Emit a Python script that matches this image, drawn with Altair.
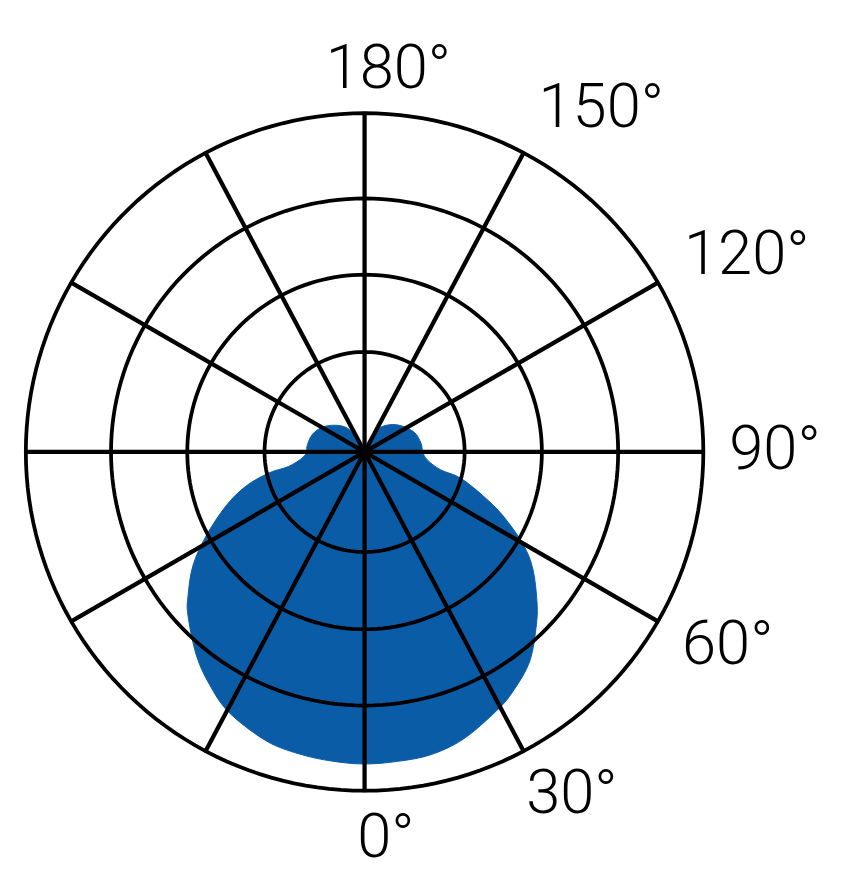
import math
import pandas as pd
import altair as alt

# Luminous intensity curve, right half (C0) and left half (C180)
# angle measured from nadir (0° = down), values in plot units
c0_angles = [0, 6.1, 12.3, 19.0, 27.0, 31.9, 38.3, 44.8, 49.0, 55.2, 59.8, 65.2, 69.6, 74.8, 76.8, 82.8, 90, 98.7, 111.8, 127.6, 140.8, 151.4, 157]
c0_values = [315, 314.1, 312.9, 306.5, 293.3, 284.1, 269.1, 246.1, 230.6, 206.9, 185.1, 154.2, 128.1, 100.2, 78.8, 63.8, 58.7, 57.7, 53.9, 44.2, 34.8, 25, 11]

c180_angles = [0, 6.1, 12.3, 18.9, 27.5, 33.7, 39.7, 47.3, 50.9, 56.5, 62.1, 68.7, 73.9, 77.6, 79.2, 84.3, 90, 95.2, 107.7, 119.7, 132, 144.8, 151]
c180_values = [315, 313.8, 311.9, 308, 296.4, 282.2, 266.1, 242.7, 229.6, 207.8, 181, 150.3, 124.9, 99, 78.1, 63.6, 58.3, 58.5, 55.9, 49.8, 40.4, 29, 12]

ring_values = [101, 179, 256, 342]
spoke_angles = [0, 28, 60, 90, 120, 152]
outer_value = 342

label_texts = ["0°", "30°", "60°", "90°", "120°", "150°", "180°"]
label_angles = [3.16, 31.2, 62.0, 90.3, 117.25, 145.45, 176.45]
label_radii = [390.0, 404.0, 415.2, 414.3, 434.0, 421.3, 387.7]

BLUE = "#0b5ca7"


def to_xy(a, r):
    t = math.radians(a)
    return r * math.sin(t), -r * math.cos(t)


# closed outline: centre, right side from top down to nadir, then left side back up
rows = [{"x": 0.0, "y": 0.0, "o": 0}]
k = 1
for a, v in zip(reversed(c0_angles), reversed(c0_values)):
    x, y = to_xy(a, v)
    rows.append({"x": x, "y": y, "o": k})
    k += 1
for a, v in zip(c180_angles[1:], c180_values[1:]):
    x, y = to_xy(-a, v)
    rows.append({"x": x, "y": y, "o": k})
    k += 1
shape_df = pd.DataFrame(rows)

ring_rows = []
for ring in ring_values:
    for s in range(0, 361, 2):
        x, y = to_xy(s, ring)
        ring_rows.append({"ring": ring, "x": x, "y": y, "o": s})
ring_df = pd.DataFrame(ring_rows)

spoke_rows = []
for a in spoke_angles:
    x1, y1 = to_xy(a, outer_value + 1.5)
    x2, y2 = to_xy(a + 180, outer_value + 1.5)
    spoke_rows.append({"x": x1, "y": y1, "x2": x2, "y2": y2})
spoke_df = pd.DataFrame(spoke_rows)

lab_rows = []
for t, a, r in zip(label_texts, label_angles, label_radii):
    x, y = to_xy(a, r)
    lab_rows.append({"t": t, "x": x, "y": y})
lab_df = pd.DataFrame(lab_rows)

xs = alt.Scale(domain=[-outer_value, outer_value], nice=False, zero=False)
ys = alt.Scale(domain=[-outer_value, outer_value], nice=False, zero=False)

shape = alt.Chart(shape_df).mark_line(
    interpolate="cardinal-closed", fill=BLUE, stroke=BLUE, strokeWidth=1, filled=True
).encode(
    x=alt.X("x:Q", scale=xs, axis=None),
    y=alt.Y("y:Q", scale=ys, axis=None),
    order="o:Q",
)

rings = alt.Chart(ring_df).mark_line(color="black", strokeWidth=3.8).encode(
    x=alt.X("x:Q", scale=xs, axis=None),
    y=alt.Y("y:Q", scale=ys, axis=None),
    detail="ring:N",
    order="o:Q",
)

spokes = alt.Chart(spoke_df).mark_rule(color="black", strokeWidth=4.3).encode(
    x=alt.X("x:Q", scale=xs, axis=None),
    y=alt.Y("y:Q", scale=ys, axis=None),
    x2="x2:Q",
    y2="y2:Q",
)

labels = alt.Chart(lab_df).mark_text(
    font="Roboto", fontWeight=300, fontSize=62, color="black",
    align="center", baseline="middle"
).encode(
    x=alt.X("x:Q", scale=xs, axis=None),
    y=alt.Y("y:Q", scale=ys, axis=None),
    text="t:N",
)

chart = alt.layer(shape, rings, spokes, labels).properties(
    width=684,
    height=684,
    padding={"left": 18, "top": 102, "right": 139, "bottom": 99},
    autosize=alt.AutoSizeParams(type="none"),
    background="white",
).configure_view(stroke=None)

chart.save("out.html", embed_options={"renderer": "svg", "actions": False})
